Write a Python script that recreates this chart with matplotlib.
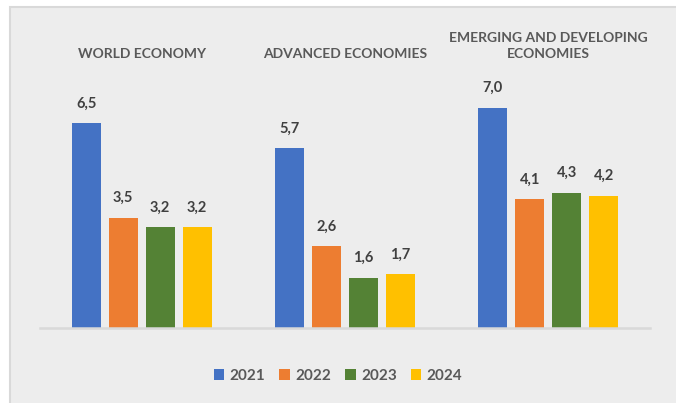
import matplotlib

matplotlib.use("Agg")
import matplotlib.pyplot as plt
import matplotlib.transforms as mtransforms
import numpy as np
from matplotlib.patches import Patch, Rectangle

plt.rcParams["font.family"] = ["Lato", "DejaVu Sans"]

groups = ["WORLD ECONOMY", "ADVANCED ECONOMIES", "EMERGING AND DEVELOPING\nECONOMIES"]
years = ["2021", "2022", "2023", "2024"]
growth_2021 = [6.5, 5.7, 7.0]
growth_2022 = [3.5, 2.6, 4.1]
growth_2023 = [3.2, 1.6, 4.3]
growth_2024 = [3.2, 1.7, 4.2]
series = [growth_2021, growth_2022, growth_2023, growth_2024]
colors = ["#4472C4", "#ED7D31", "#548235", "#FFC000"]

W, H = 676, 403
fig = plt.figure(figsize=(W / 100, H / 100), dpi=100)
fig.patch.set_facecolor("white")

# chart area panel with a thin border, kept behind the axes
fig.patches.append(
    Rectangle((10 / W, -0.01), 1.0, 1 - 7 / H + 0.01, transform=fig.transFigure,
              facecolor="#EDEDED", edgecolor="#D9D9D9", linewidth=1.5, zorder=-5)
)

ax = fig.add_axes([40 / W, 1 - 328 / H, 610 / W, 252 / H])
ax.set_facecolor("none")

x = np.arange(len(groups))
bar_w = 0.143
step = 0.182
for i, (vals, col) in enumerate(zip(series, colors)):
    pos = x + (i - 1.5) * step
    ax.bar(pos, vals, width=bar_w, color=col, zorder=2)
    for px, v in zip(pos, vals):
        ax.annotate(f"{v:.1f}".replace(".", ","), (px, v), xytext=(0, 9),
                    textcoords="offset points", ha="center", va="bottom",
                    fontsize=10.5, fontweight="bold", color="#404040")

ax.set_xlim(-0.5, len(groups) - 0.5)
ax.set_ylim(0, 8)
for side in ("top", "left", "right"):
    ax.spines[side].set_visible(False)
ax.spines["bottom"].set_color("#D9D9D9")
ax.spines["bottom"].set_linewidth(1.8)
ax.set_xticks([])
ax.set_yticks([])

# group titles above the bars
title_tf = mtransforms.blended_transform_factory(ax.transData, fig.transFigure)
for gx, name in zip(x, groups):
    ax.text(gx, 1 - 60 / H, name, transform=title_tf, ha="center", va="bottom",
            fontsize=10, fontweight="bold", color="#595959", linespacing=1.45)

handles = [Patch(facecolor=c, edgecolor="none") for c in colors]
fig.legend(handles, years, loc="center", bbox_to_anchor=(0.5, 1 - 376 / H), ncol=4,
           frameon=False, handlelength=0.7, handleheight=0.7, handletextpad=0.35,
           columnspacing=0.9, prop={"size": 11, "weight": "bold"}, labelcolor="#595959")

fig.savefig("out.png", dpi=100)
